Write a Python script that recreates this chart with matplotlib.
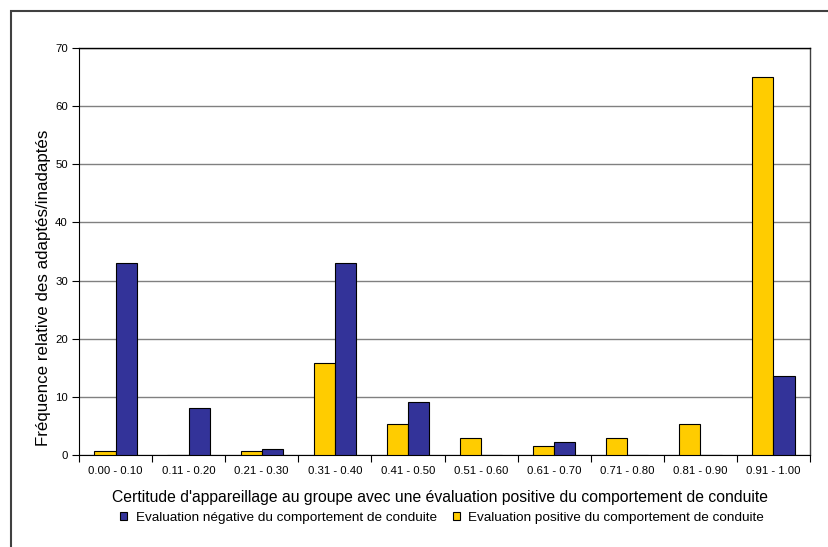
import matplotlib
matplotlib.use("Agg")
import matplotlib.pyplot as plt
import numpy as np
from matplotlib.patches import Rectangle

plt.rcParams['font.family'] = ['Liberation Sans', 'DejaVu Sans']

categories = ["0.00 - 0.10", "0.11 - 0.20", "0.21 - 0.30", "0.31 - 0.40", "0.41 - 0.50",
              "0.51 - 0.60", "0.61 - 0.70", "0.71 - 0.80", "0.81 - 0.90", "0.91 - 1.00"]
negative = [33.0, 8.0, 1.1, 33.0, 9.1, 0.0, 2.3, 0.0, 0.0, 13.6]
positive = [0.76, 0.0, 0.76, 15.8, 5.3, 3.0, 1.5, 3.0, 5.3, 65.0]
yticks = [0, 10, 20, 30, 40, 50, 60, 70]

label_neg = "Evaluation négative du comportement de conduite"
label_pos = "Evaluation positive du comportement de conduite"
xlabel = "Certitude d'appareillage au groupe avec une évaluation positive du comportement de conduite"
ylabel = "Fréquence relative des adaptés/inadaptés"

fig = plt.figure(figsize=(8.29, 5.47), dpi=100)
W, H = 829, 547
fig.patches.append(Rectangle((11 / W, -0.1), 1.2, 1 - 11 / H + 0.1, transform=fig.transFigure,
                             fill=False, edgecolor='#404040', linewidth=1.5))

ax = fig.add_axes([79 / W, 1 - 455 / H, (810 - 79) / W, (455 - 48) / H])
x = np.arange(len(categories))
bw = 0.29
ax.bar(x - bw / 2, positive, bw, color='#FFCC00', edgecolor='black', linewidth=0.8, zorder=3,
       label=label_pos)
ax.bar(x + bw / 2, negative, bw, color='#333399', edgecolor='black', linewidth=0.8, zorder=3,
       label=label_neg)

ax.set_xlim(-0.5, len(categories) - 0.5)
ax.set_ylim(0, 70)
ax.set_yticks(yticks)
ax.set_yticklabels([str(v) for v in yticks], fontsize=8.2)
ax.yaxis.grid(True, color='#808080', linewidth=1.0, zorder=0)
ax.set_axisbelow(True)

ax.set_xticks(x)
ax.set_xticklabels(categories, fontsize=8.2)
ax.tick_params(axis='x', length=0, pad=8)
ax.set_xticks(np.arange(-0.5, len(categories), 1.0), minor=True)
ax.tick_params(axis='x', which='minor', length=5, width=0.8, direction='out')
ax.tick_params(axis='y', length=5, width=0.8, direction='out', pad=3)

ax.spines['right'].set_color('#404040')
ax.spines['right'].set_linewidth(1.0)
ax.spines['top'].set_color('black')
ax.spines['top'].set_linewidth(1.0)
ax.spines['left'].set_linewidth(0.8)
ax.spines['bottom'].set_linewidth(0.8)

fig.text(44 / W, 1 - 288 / H, ylabel, rotation=90, ha='center', va='center', fontsize=12.2)
fig.text(440 / W, 1 - 497.5 / H, xlabel, ha='center', va='center', fontsize=11.3)

handles, labels = ax.get_legend_handles_labels()
leg = fig.legend([handles[1], handles[0]], [labels[1], labels[0]], loc='center',
                 bbox_to_anchor=(442 / W, 1 - 518 / H), ncol=2, frameon=False,
                 fontsize=9.7, handlelength=0.55, handleheight=0.55, handletextpad=0.62,
                 columnspacing=1.2, borderpad=0, borderaxespad=0)

fig.savefig("out.png", dpi=100)
